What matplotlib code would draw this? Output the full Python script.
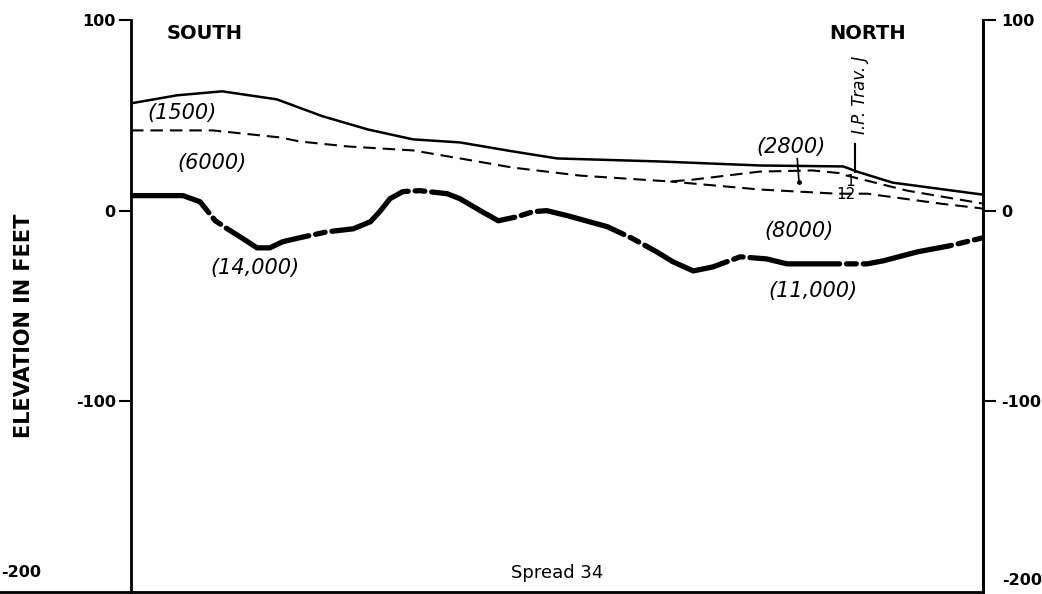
import matplotlib.pyplot as plt
from matplotlib.lines import Line2D

plt.rcParams['font.family'] = ['DejaVu Sans']
plt.rcParams['lines.scale_dashes'] = False

# === Profile data (distance along spread in %, elevation in feet) ===
surface_x = [0, 5.4, 10.7, 17.1, 22.5, 27.8, 33.1, 38.6, 44.8, 50.0, 62.1, 73.8, 83.6, 85.2, 89.4, 100]
surface_y = [56.3, 60.5, 62.6, 58.4, 49.5, 42.6, 37.4, 35.8, 31.1, 27.4, 25.8, 23.7, 23.2, 20.5, 14.7, 8.4]

layer1_x = [0, 9.6, 17.5, 19.8, 25.4, 33.1, 39.4, 44.8, 52.7, 63.3, 66.0, 73.8, 80.0, 83.6, 84.0, 91.1, 100]
layer1_y = [42.1, 42.1, 38.4, 36.3, 33.7, 31.6, 26.8, 22.6, 18.4, 15.3, 16.3, 20.5, 21.1, 19.5, 18.4, 10.5, 3.7]

layer2_x = [63.3, 66.0, 73.8, 82.9, 86.4, 95.0, 100]
layer2_y = [15.3, 14.2, 11.1, 8.9, 8.9, 3.7, 1.1]

refr_x = [0.1, 6.1, 8.1, 9.9, 11.3, 12.8, 14.8, 16.3, 17.8, 19.8, 23.0, 26.1, 28.1, 29.2, 30.4,
          31.9, 33.9, 37.1, 38.6, 41.0, 43.1, 45.3, 47.2, 48.8, 51.2, 55.9, 58.9, 61.7, 63.6,
          66.0, 68.3, 71.5, 74.6, 77.0, 82.4, 86.4, 88.3, 92.3, 96.1, 100]
refr_y = [7.9, 7.9, 4.7, -5.3, -9.5, -13.7, -19.5, -19.5, -16.3, -14.2, -11.1, -9.5, -5.8, -0.5, 6.3,
          10.0, 10.5, 8.9, 6.3, 0.0, -5.3, -3.2, -0.5, 0.0, -2.6, -8.4, -14.7, -21.6, -26.8,
          -31.6, -29.5, -24.2, -25.3, -27.9, -27.9, -27.9, -26.3, -21.6, -18.4, -14.2]

# velocity labels (ft/s): text, x, y
velocity_labels = [("(1500)", 6.0, 51.4), ("(6000)", 9.5, 25.2), ("(14,000)", 14.6, -29.9),
                   ("(2800)", 77.5, 33.6), ("(8000)", 78.4, -10.5), ("(11,000)", 80.0, -42.0)]

axis_ticks = [-100, 0, 100]

# === Figure setup ===
fig = plt.figure(figsize=(10.42, 5.94), dpi=100)
ax = fig.add_axes([0.1257, 0.0034, 0.8177, 0.9629])
ax.set_xlim(0, 100)
ax.set_ylim(-200, 100)

ax.plot(surface_x, surface_y, color='black', lw=1.8)
ax.plot(layer1_x, layer1_y, color='black', lw=1.5, linestyle=(0, (9, 5)))
ax.plot(layer2_x, layer2_y, color='black', lw=1.5, linestyle=(4, (9, 5)))
ax.plot(refr_x, refr_y, color='black', lw=3.8, linestyle=(5, (65, 5, 7, 5)),
        solid_capstyle='round', dash_capstyle='round')

for txt, x, y in velocity_labels:
    ax.text(x, y, txt, fontsize=15, style='italic', ha='center', va='center')

# direction labels
ax.text(8.7, 92.8, "SOUTH", fontsize=14, fontweight='bold', ha='center', va='center')
ax.text(86.5, 92.8, "NORTH", fontsize=14, fontweight='bold', ha='center', va='center')

# I.P. marker and refractor numbers
ax.plot([85.0, 85.0], [35.1, 20.5], color='black', lw=1.5)
ax.text(85.6, 60.8, "I.P. Trav. J", fontsize=12, style='italic', rotation=90,
        ha='center', va='center')
ax.plot([78.2, 78.4], [27.3, 15.2], color='black', lw=1.2)
ax.plot([78.4], [15.2], 'ko', ms=2.5)
ax.text(84.4, 15.2, "1", fontsize=11, ha='center', va='center')
ax.text(83.9, 8.4, "12", fontsize=11, ha='center', va='center')

# === Axes styling ===
ax.spines['top'].set_visible(False)
for s in ['left', 'right', 'bottom']:
    ax.spines[s].set_linewidth(2)
ax.set_xticks([])
ax.set_yticks(axis_ticks)
ax.set_yticklabels([str(t) for t in axis_ticks], fontsize=11.5, fontweight='bold')
ax.tick_params(axis='y', direction='out', length=9, width=1.5, pad=2)

ax2 = ax.twinx()
ax2.set_ylim(-200, 100)
ax2.set_yticks(axis_ticks)
ax2.set_yticklabels([str(t) for t in axis_ticks], fontsize=11.5, fontweight='bold')
ax2.tick_params(axis='y', direction='out', length=9, width=1.5, pad=4)
ax2.spines['top'].set_visible(False)
ax2.spines['right'].set_linewidth(2)

# -200 labels, kept inside the picture
fig.text(0.001, 0.0354, "-200", fontsize=11.5, fontweight='bold', ha='left', va='center')
fig.text(0.962, 0.022, "-200", fontsize=11.5, fontweight='bold', ha='left', va='center')
fig.text(0.023, 0.451, "ELEVATION IN FEET", fontsize=15, fontweight='bold', rotation=90,
         ha='center', va='center')
fig.text(0.5345, 0.0354, "Spread 34", fontsize=13, ha='center', va='center')
fig.add_artist(Line2D([0, 0.1257], [0.0034, 0.0034], color='black', lw=2))

plt.savefig("out.png", dpi=100)
